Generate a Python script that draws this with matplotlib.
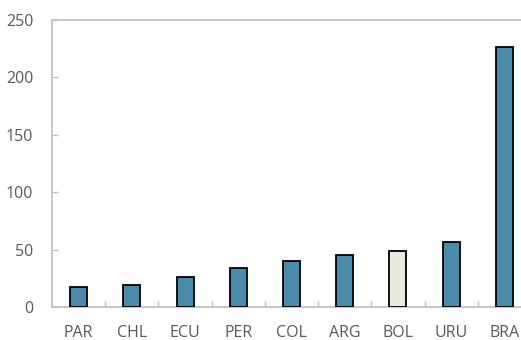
import matplotlib
matplotlib.use('Agg')
import matplotlib.pyplot as plt
import numpy as np

# values
countries = ['PAR', 'CHL', 'ECU', 'PER', 'COL', 'ARG', 'BOL', 'URU', 'BRA']
values = [18, 19.5, 26.6, 34.2, 40.6, 45.2, 49.3, 56.6, 226.8]
highlight = 'BOL'

blue = '#4a8aab'
cream = '#eceadf'
grey_txt = '#595959'
grey_line = '#bfbfbf'

plt.rcParams['font.family'] = ['Open Sans', 'DejaVu Sans']

fig = plt.figure(figsize=(5.21, 3.4), dpi=100)
W, H = 521, 340
ax = fig.add_axes([52 / W, (H - 307.3) / H, 479 / W, 287.3 / H])

x = np.arange(len(countries))
colors = [cream if c == highlight else blue for c in countries]
ax.bar(x, values, width=0.32, color=colors, edgecolor='black', linewidth=1.3, zorder=3)

ax.set_xlim(-0.5, len(countries) - 0.5)
ax.set_ylim(0, 250)
ax.set_yticks([0, 50, 100, 150, 200, 250])

# boundary ticks (no labels), labels at bar centres
ax.set_xticks(x[:-1] + 0.5)
ax.set_xticklabels([])
ax.set_xticks(x, minor=True)
ax.set_xticklabels(countries, minor=True)
ax.tick_params(axis='x', which='major', direction='in', length=4, color=grey_line, width=1)
ax.tick_params(axis='x', which='minor', length=0, pad=12.5, labelsize=11.5, labelcolor=grey_txt)
ax.tick_params(axis='y', direction='in', length=4, color=grey_line, width=1,
               pad=13.5, labelsize=11.5, labelcolor=grey_txt)

for s in ['left', 'bottom', 'top', 'right']:
    ax.spines[s].set_color(grey_line)
    ax.spines[s].set_linewidth(1.2)

fig.savefig('out.png', dpi=100)
